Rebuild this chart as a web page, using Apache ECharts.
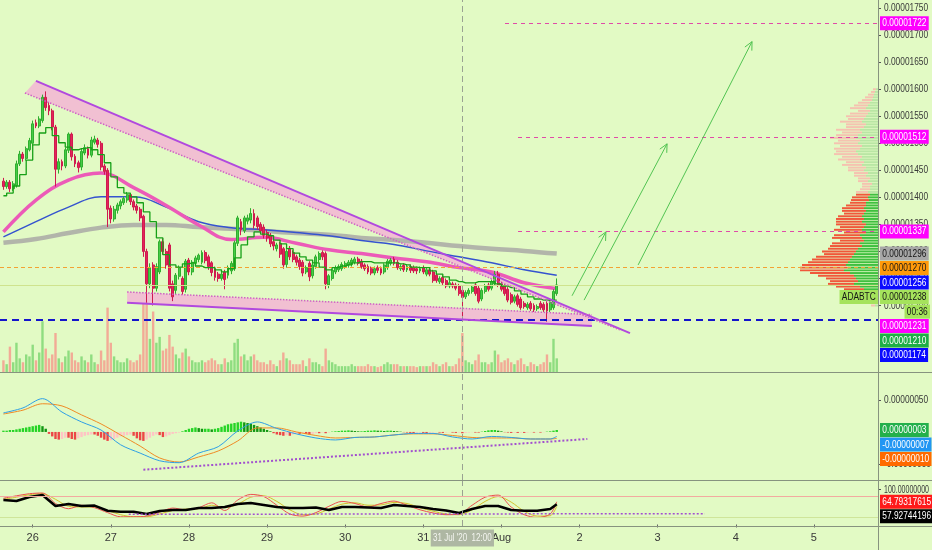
<!DOCTYPE html>
<html>
<head>
<meta charset="utf-8">
<title>ADABTC</title>
<script src="https://cdn.jsdelivr.net/npm/echarts@6.0.0/dist/echarts.min.js"></script>
<style>
html,body{margin:0;padding:0;background:#e2fac4;overflow:hidden}
#chart{width:932px;height:550px}
</style>
</head>
<body>
<div id="chart"></div>
<script>
// ======================= DATA =======================
// Prices in satoshi (1e-8 BTC). Time in hours since 25 Jul 2020 00:00, 1h candles.
const symbol = 'ADABTC';
const countdown = '00:36';
const firstCandleHour = 15;

const opens = [
1430,1420,1428,1416,1422,1462,1480,1472,1488,1500,
1538,1532,1542,1585,1570,1560,1530,1452,1466,1458,
1487,1517,1476,1464,1456,1482,1490,1478,1502,1506,
1500,1458,1450,1380,1360,1376,1384,1390,1395,1405,
1392,1384,1378,1365,1300,1240,1275,1232,1262,1318,
1300,1312,1240,1228,1254,1250,1230,1284,1262,1278,
1285,1280,1298,1290,1279,1268,1258,1250,1262,1256,
1264,1268,1315,1355,1338,1356,1358,1370,1362,1350,
1345,1335,1330,1318,1305,1315,1305,1276,1306,1298,
1290,1284,1280,1262,1278,1255,1272,1285,1298,1296,
1238,1250,1262,1266,1268,1272,1275,1276,1280,1286,
1282,1275,1272,1268,1260,1270,1268,1262,1270,1278,
1286,1280,1268,1274,1266,1272,1270,1268,1264,1270,
1258,1266,1262,1256,1244,1252,1246,1236,1240,1238,
1236,1228,1216,1222,1226,1238,1232,1212,1226,1238,
1232,1240,1258,1240,1236,1230,1220,1208,1218,1212,
1204,1196,1204,1200,1194,1204,1202,1204,1192,1196,
1222];
const closes = [
1420,1428,1416,1425,1462,1480,1472,1490,1505,1536,
1532,1545,1585,1566,1560,1530,1452,1466,1458,1488,
1517,1475,1462,1455,1485,1492,1478,1506,1508,1498,
1456,1448,1378,1360,1378,1386,1392,1398,1405,1392,
1382,1376,1362,1300,1240,1270,1232,1272,1318,1300,
1275,1232,1216,1256,1270,1226,1282,1262,1280,1288,
1293,1298,1283,1272,1261,1252,1250,1258,1248,1270,
1278,1316,1362,1340,1362,1362,1370,1348,1346,1338,
1330,1325,1314,1310,1312,1295,1275,1300,1290,1285,
1280,1272,1260,1270,1253,1275,1290,1296,1290,1240,
1255,1265,1270,1272,1276,1278,1280,1284,1286,1278,
1272,1268,1262,1260,1268,1265,1260,1275,1282,1284,
1278,1270,1272,1266,1272,1265,1264,1264,1268,1262,
1266,1258,1246,1246,1250,1242,1236,1242,1236,1232,
1222,1215,1224,1228,1234,1222,1208,1228,1236,1230,
1244,1258,1238,1230,1222,1210,1206,1216,1202,1196,
1198,1202,1194,1192,1198,1196,1192,1190,1206,1226,
1238];
const highs = [
1436,1432,1432,1430,1468,1486,1484,1494,1510,1542,
1544,1550,1590,1596,1576,1564,1534,1472,1470,1492,
1520,1520,1480,1468,1490,1498,1494,1512,1514,1510,
1504,1462,1454,1385,1384,1390,1396,1402,1410,1408,
1396,1388,1382,1368,1305,1278,1280,1278,1322,1324,
1305,1316,1246,1260,1274,1254,1286,1288,1284,1292,
1296,1302,1302,1294,1282,1272,1262,1262,1266,1274,
1282,1320,1366,1360,1366,1368,1380,1378,1366,1354,
1350,1340,1334,1322,1316,1318,1308,1304,1310,1302,
1294,1288,1284,1274,1282,1280,1294,1300,1302,1300,
1258,1268,1274,1276,1280,1282,1284,1288,1290,1290,
1286,1278,1276,1272,1272,1274,1272,1278,1286,1288,
1290,1284,1276,1278,1276,1276,1274,1272,1272,1274,
1270,1270,1266,1260,1254,1256,1250,1246,1244,1242,
1240,1232,1228,1232,1238,1242,1236,1232,1240,1242,
1248,1264,1264,1244,1240,1234,1224,1220,1222,1216,
1208,1206,1208,1204,1202,1208,1206,1208,1210,1230,
1250];
const lows = [
1414,1416,1410,1412,1418,1458,1466,1468,1485,1496,
1528,1528,1538,1560,1552,1524,1420,1444,1450,1454,
1482,1468,1456,1446,1450,1478,1472,1474,1498,1492,
1450,1442,1345,1352,1355,1370,1378,1386,1390,1386,
1376,1370,1356,1290,1205,1232,1200,1226,1258,1294,
1268,1226,1208,1220,1248,1220,1224,1256,1256,1272,
1280,1276,1278,1266,1254,1246,1244,1246,1230,1250,
1258,1264,1310,1330,1334,1350,1352,1342,1340,1332,
1324,1318,1308,1302,1300,1288,1268,1270,1284,1280,
1274,1266,1254,1258,1245,1250,1268,1280,1284,1230,
1232,1246,1258,1262,1264,1268,1270,1272,1276,1274,
1268,1264,1258,1256,1256,1260,1256,1258,1266,1274,
1274,1266,1264,1262,1262,1260,1260,1258,1260,1258,
1254,1254,1242,1242,1240,1238,1232,1232,1232,1228,
1218,1172,1212,1218,1222,1218,1204,1208,1222,1226,
1228,1236,1234,1226,1218,1206,1202,1204,1198,1192,
1194,1192,1190,1188,1190,1192,1188,1170,1188,1192,
1218];
const volumes = [
12,8,26,10,30,14,10,18,16,28,
12,20,52,24,14,18,40,14,10,16,
22,20,12,10,16,12,10,18,10,8,
22,12,66,30,16,12,10,10,14,12,
10,12,18,70,72,34,62,30,36,22,
24,38,26,18,14,20,24,16,12,10,
10,12,10,12,14,12,8,8,14,10,
12,30,34,16,18,12,16,18,12,10,
10,8,12,8,6,12,20,14,12,8,
8,8,12,6,14,10,10,8,6,24,
12,10,8,6,6,6,6,8,6,6,
6,6,8,6,6,5,6,8,10,8,
8,8,6,6,6,6,6,5,6,6,
6,6,10,8,6,8,10,6,6,8,
14,40,12,10,8,12,18,10,10,8,
10,22,18,10,12,14,10,8,12,14,
8,6,10,8,6,8,10,18,10,34,
14];

// moving averages, sampled every 10 candles (last = final candle)
const maStep = 10;
const ma50 = [1336,1395,1432,1445,1418,1385,1349,1322,1326,1315,1303,1296,1288,1281,1270,1262,1242,1231];
const ma100 = [1327,1355,1382,1401,1401,1382,1355,1344,1340,1335,1329,1320,1313,1301,1290,1279,1266,1256];
const ma200 = [1316,1323,1334,1344,1349,1349,1345,1342,1338,1334,1331,1325,1321,1316,1310,1305,1301,1296];
// stepped baseline, sampled every 2 candles
const baseStep = 2;
const baseLine = [
1403,1408,1421,1442,1469,1497,1519,1529,1514,1501,
1493,1488,1490,1492,1488,1479,1464,1438,1418,1408,
1401,1390,1373,1355,1325,1294,1275,1271,1277,1279,
1273,1270,1270,1266,1262,1268,1288,1312,1327,1336,
1332,1329,1321,1314,1305,1297,1290,1284,1279,1271,
1266,1270,1273,1275,1279,1281,1281,1279,1279,1279,
1279,1277,1275,1271,1270,1270,1264,1258,1253,1247,
1244,1242,1242,1244,1244,1244,1240,1236,1233,1227,
1221,1216,1212,1210,1210,1210];

// horizontal levels
const targetLevels = [1722, 1512, 1337];
const targetStartHours = [169.1, 173.1, 173.1];
const resistanceLevel = 1270;
const supportLevel = 1174;
const crosshairHour = 156;
const crosshairLabel = "31 Jul '20  12:00";

// falling wedge (hour, price)
const upperWedgeSolid = [[25.0, 1615.5], [207.5, 1149]];
const upperWedgeDotted = [[21.6, 1593], [204.4, 1155]];
const lowerWedgeSolid = [[53.0, 1205], [195.8, 1162]];
const lowerWedgeDotted = [[53.0, 1225], [195.8, 1183]];
// projection arrows (hour, price)
const arrowFrom = [[189.7, 1218], [193.4, 1210], [210.0, 1275]];
const arrowTo = [[200.1, 1336], [218.9, 1499], [245.0, 1688]];

// visible range volume profile (rows of 5 sat, from 1600 down to 1200)
const profileTop = 1600, profileRow = 5;
const valueArea = [1205, 1405];
const profileUp = [2,3,4,5,6,8,10,12,8,10, 12,14,16,12,14,18,16,20,22,18, 20,16,18,22,20,16,18,14,16,12, 14,10,12,8,10,6,8,8,10,8, 10,9,12,12,14,12,14,16,14,16, 12,14,16,12,18,16,14,18,16,20, 22,24,26,28,30,32,30,34,28,24, 22,20,24,18,14,12,10,8,6,4, 3];
const profileDown = [3,4,6,8,10,12,14,16,12,18, 20,16,22,20,18,24,20,22,26,22, 24,22,26,20,24,20,22,18,20,18, 16,14,12,12,10,10,8,10,12,14, 16,18,16,20,22,24,20,24,28,26, 30,24,28,22,26,30,24,28,32,30, 34,30,36,38,40,44,48,44,40,36, 30,28,26,24,20,16,12,10,8,6, 4];

// MACD (1e-8 units), lines sampled every 6 candles
const macdStep = 6;
const macdLine = [29.7,37.5,52,31,15.6,3,-20,-33,-45,-48,-33,-23,1.6,15.6,5.5,-3,-9.4,-12.5,-8.6,-7.8,-4.7,-2.3,-2.3,-7.8,-11,-7,-8.6,-11,-11,-7];
const signalLine = [28,34,44,40.6,26.6,12.5,-4.7,-22,-40.6,-47,-39,-29.7,-14,6.3,6.3,0,-5.5,-9.4,-8.6,-7.8,-4.7,-3,-3,-5.5,-8.6,-9.4,-9.4,-11,-11,-10];
const macdHist = [
2,2,3,3,4,5,6,7,8,9,10,11,9,5,
-3,-7,-11,-12,-11,-9,-9,-11,-12,-10,-8,-6,-5,-4,-4,-6,-9,-12,-14,-13,-11,-9,-7,-6,-5,-4,-6,-10,-13,-14,-12,-9,-6,-4,-5,-8,-7,-5,-3,-2,-1,
1,3,5,6,7,6,5,5,5,4,5,6,8,10,12,13,14,15,16,15,14,13,11,9,7,5,3,1,
-2,-4,-5,-6,-5,-6,-4,-3,-3,-2,-3,-4,-3,-2,-2,-1,-2,-1,
0.5,1,1.5,2,2,2.5,2,1.5,1,1,1.5,2,2,2.5,2,2,1.5,2,2,1.5,1,0.5,
-0.5,-1,-1.5,-2,-1.5,-1,-1.5,-2,-1.5,-1,-0.5,-1,-1.5,-1,-0.5,-1,-1.5,
-1,-2,-1.5,-1,-0.5,-1,-1,0.5,1.5,2.5,3,3,2,1,-0.5,-1,-1.5,-1,-1.5,-1,-1.5,-1,-0.5,-1,-0.5,-1,-0.5,0.5,1,2,3];
const macdTrend = [[58.0, -59], [194.4, -11]];

// oscillator panel, sampled every 4 candles
const oscStep = 4;
const oscMain = [70,67,78.6,84.3,52.9,58.6,52.9,54,39.4,36.6,36.6,30,38.6,41.4,41.4,47.1,47.1,50,58.6,61.4,55.7,50,47,47,48.6,41.4,50,50,48.6,47,55.7,52.9,50,44.3,40,32.9,44.3,52.9,52.9,41.4,39.4,39.4,44.3,57.92744196];
const oscFast = [75,82,88,90,60,45,55,48,34,22,22,24,35,47,42,48,62,40,70,86,80,55,30,24,34,52,66,60,50,60,67,55,42,33,28,30,55,78,84,50,28,20,30,64.79317615];
const oscSlow = [72,78,85,88,72,52,50,50,40,28,22,22,30,40,44,45,55,48,58,78,82,66,42,28,30,44,58,62,55,56,63,60,48,38,30,28,42,66,80,64,38,24,25,52];
const oscBands = [80, 20];
const oscTrend = [[53.5, 29], [230.5, 31]];

// axis ticks
const dayTickHours = [24,48,72,96,120,144,168,192,216,240,264];
const dayLabels = ['26','27','28','29','30','31','Aug','2','3','4','5'];
const priceTicks = [1200,1250,1300,1350,1400,1450,1500,1550,1600,1650,1700,1750];
const macdTicks = [-50, 50];
const oscTicks = [100];

// ======================= LAYOUT / STYLE =======================
const visibleHours = [13.95, 283.7];
const priceRange = [1077, 1765];
const macdRange = [-75, 92];
const oscRange = [-4.3, 124.3];
const BG = '#e2fac4';
const FONT = '"Liberation Sans",Arial,sans-serif';
const SX = 0.76; // horizontal squeeze to mimic the narrow UI font
const AXIS_TXT = '#383838';
const LINE_SEP = '#87937f';

const lastIdx = closes.length - 1;
const hourOf = i => firstCandleHour + i;
function idxList(step) { const a = []; for (let i = 0; i <= lastIdx; i += step) a.push(i); if (a[a.length - 1] !== lastIdx) a.push(lastIdx); return a; }
const sampled = (arr, step) => idxList(step).map((i, k) => [hourOf(i), arr[k]]);
const fmt8 = v => (v / 1e8).toFixed(8);

const wedges = [
  { solid: upperWedgeSolid, dotted: upperWedgeDotted },
  { solid: lowerWedgeSolid, dotted: lowerWedgeDotted }
];
const profileData = profileUp.map((u, k) => [profileTop - k * profileRow, u, profileDown[k]]);

function histColor(i) {
  const v = macdHist[i], p = i > 0 ? macdHist[i - 1] : v;
  if (v >= 0) return v >= p ? '#25d425' : '#129612';
  return v <= p ? '#ec4646' : '#ffc4c4';
}

const gridBase = { outerBoundsMode: 'none', containLabel: false };
const hiddenX = (gi) => ({ type: 'value', gridIndex: gi, min: visibleHours[0], max: visibleHours[1], show: false });
function rightY(gi, range, ticks) {
  return {
    type: 'value', gridIndex: gi, position: 'right', min: range[0], max: range[1], scale: true,
    axisLine: { show: false }, splitLine: { show: false },
    axisTick: { show: true, length: 3, lineStyle: { color: '#555' }, customValues: ticks },
    axisLabel: { show: false }
  };
}

const option = {
  animation: false,
  backgroundColor: BG,
  grid: [
    Object.assign({ left: 0, top: 0, width: 878, height: 372 }, gridBase),
    Object.assign({ left: 0, top: 292, width: 878, height: 80 }, gridBase),
    Object.assign({ left: 790, top: 0, width: 88, height: 372 }, gridBase),
    Object.assign({ left: 0, top: 373, width: 878, height: 107 }, gridBase),
    Object.assign({ left: 0, top: 481, width: 878, height: 45 }, gridBase)
  ],
  xAxis: [
    hiddenX(0), hiddenX(1),
    { type: 'value', gridIndex: 2, min: 0, max: 88, inverse: true, show: false },
    hiddenX(3),
    {
      type: 'value', gridIndex: 4, min: visibleHours[0], max: visibleHours[1],
      axisLine: { show: false }, splitLine: { show: false },
      axisTick: { show: true, length: 3, lineStyle: { color: '#666' }, customValues: dayTickHours },
      axisLabel: { show: true, margin: 6, color: AXIS_TXT, fontSize: 11, fontFamily: FONT, customValues: dayTickHours,
        formatter: v => { const k = dayTickHours.indexOf(Math.round(v)); return k >= 0 ? dayLabels[k] : ''; } }
    }
  ],
  yAxis: [
    rightY(0, priceRange, priceTicks),
    { type: 'value', gridIndex: 1, min: 0, max: 82, show: false },
    { type: 'value', gridIndex: 2, min: priceRange[0], max: priceRange[1], show: false },
    rightY(3, macdRange, macdTicks),
    rightY(4, oscRange, oscTicks)
  ],
  series: [
    // volume
    { type: 'bar', xAxisIndex: 1, yAxisIndex: 1, barWidth: 2.4, silent: true, z: 1,
      data: volumes.map((v, i) => [hourOf(i), v]),
      itemStyle: { color: p => closes[p.dataIndex] >= opens[p.dataIndex] ? '#8fdd80' : '#f2ab96' } },
    // volume profile
    { type: 'custom', xAxisIndex: 2, yAxisIndex: 2, silent: true, z: 1, data: profileData,
      renderItem: (params, api) => {
        const price = api.value(0), up = api.value(1), dn = api.value(2);
        const inVA = price >= valueArea[0] && price <= valueArea[1];
        const p0 = api.coord([0, price]), pu = api.coord([up, price]), pd = api.coord([up + dn, price]);
        const h = Math.max(1, api.size([0, profileRow])[1] * 0.72);
        return { type: 'group', children: [
          { type: 'rect', shape: { x: pu[0], y: p0[1] - h / 2, width: p0[0] - pu[0], height: h }, style: { fill: inVA ? '#3fbf3f' : '#b9e6a4' } },
          { type: 'rect', shape: { x: pd[0], y: p0[1] - h / 2, width: pu[0] - pd[0], height: h }, style: { fill: inVA ? '#f0573a' : '#f5c2b0' } }
        ] };
      } },
    // wedge bands
    { type: 'custom', xAxisIndex: 0, yAxisIndex: 0, silent: true, z: 2,
      data: wedges.map((w, k) => [w.solid[0][0], w.solid[0][1], k]),
      renderItem: (params, api) => {
        const w = wedges[params.dataIndex];
        const pts = [w.solid[0], w.solid[1], w.dotted[1], w.dotted[0]].map(p => api.coord(p));
        return { type: 'polygon', shape: { points: pts }, style: { fill: 'rgba(245,178,214,0.8)' } };
      } },
    // MA 200 gray
    { type: 'line', xAxisIndex: 0, yAxisIndex: 0, smooth: 0.4, symbol: 'none', silent: true, z: 3,
      data: sampled(ma200, maStep), lineStyle: { color: '#b2b5aa', width: 4.5 } },
    // MA 100 blue
    { type: 'line', xAxisIndex: 0, yAxisIndex: 0, smooth: 0.4, symbol: 'none', silent: true, z: 3,
      data: sampled(ma100, maStep), lineStyle: { color: '#3553cf', width: 1.5 } },
    // MA 50 pink
    { type: 'line', xAxisIndex: 0, yAxisIndex: 0, smooth: 0.4, symbol: 'none', silent: true, z: 3,
      data: sampled(ma50, maStep), lineStyle: { color: '#ec5ab8', width: 3.5 } },
    // candles
    { type: 'candlestick', xAxisIndex: 0, yAxisIndex: 0, barWidth: 2.4, silent: true, z: 4,
      data: opens.map((o, i) => [hourOf(i), o, closes[i], lows[i], highs[i]]),
      encode: { x: 0, y: [1, 2, 3, 4] },
      itemStyle: { color: '#46cc46', color0: '#e3245a', borderColor: '#2fae2f', borderColor0: '#cf1a4e', borderWidth: 1 },
      markLine: { silent: true, symbol: 'none', label: { show: false }, animation: false,
        data: [
          { yAxis: resistanceLevel, lineStyle: { color: '#f3a233', type: [4, 3], width: 1 } },
          { yAxis: closes[lastIdx], lineStyle: { color: '#cfe38e', type: 'solid', width: 1 } },
          { yAxis: supportLevel, lineStyle: { color: '#1414cc', type: [7, 5], width: 2 } },
          { xAxis: crosshairHour, lineStyle: { color: '#9aa292', type: [6, 4], width: 1 } },
          ...targetLevels.map((lv, k) => [
            { coord: [targetStartHours[k], lv], lineStyle: { color: '#e04aa8', type: [4, 4], width: 1 } },
            { coord: [visibleHours[1], lv] }
          ])
        ] } },
    // stepped baseline green
    { type: 'line', xAxisIndex: 0, yAxisIndex: 0, step: 'middle', symbol: 'none', silent: true, z: 5,
      data: sampled(baseLine, baseStep), lineStyle: { color: '#17a017', width: 1.3 } },
    // wedge lines
    ...wedges.map(w => ({ type: 'line', xAxisIndex: 0, yAxisIndex: 0, symbol: 'none', silent: true, z: 6,
      data: w.solid, lineStyle: { color: '#b149de', width: 2 } })),
    ...wedges.map(w => ({ type: 'line', xAxisIndex: 0, yAxisIndex: 0, symbol: 'none', silent: true, z: 6,
      data: w.dotted, lineStyle: { color: '#cf62c4', width: 1.5, type: 'dotted' } })),
    // projection arrows
    { type: 'custom', xAxisIndex: 0, yAxisIndex: 0, silent: true, z: 6,
      data: arrowFrom.map((p, k) => [p[0], p[1], k]),
      renderItem: (params, api) => {
        const k = params.dataIndex;
        const a = api.coord(arrowFrom[k]), b = api.coord(arrowTo[k]);
        const ang = Math.atan2(b[1] - a[1], b[0] - a[0]);
        const L = 9, s = 0.45;
        const h1 = [b[0] - L * Math.cos(ang - s), b[1] - L * Math.sin(ang - s)];
        const h2 = [b[0] - L * Math.cos(ang + s), b[1] - L * Math.sin(ang + s)];
        const st = { stroke: '#52c452', lineWidth: 1, fill: null };
        return { type: 'group', children: [
          { type: 'line', shape: { x1: a[0], y1: a[1], x2: b[0], y2: b[1] }, style: st },
          { type: 'polyline', shape: { points: [h1, b, h2] }, style: st }
        ] };
      } },
    // MACD histogram
    { type: 'bar', xAxisIndex: 3, yAxisIndex: 3, barWidth: 2.4, silent: true, z: 2,
      data: macdHist.map((v, i) => [hourOf(i), v]),
      itemStyle: { color: p => histColor(p.dataIndex) } },
    { type: 'line', xAxisIndex: 3, yAxisIndex: 3, smooth: 0.3, symbol: 'none', silent: true, z: 3,
      data: sampled(signalLine, macdStep), lineStyle: { color: '#f08a24', width: 1 } },
    { type: 'line', xAxisIndex: 3, yAxisIndex: 3, smooth: 0.3, symbol: 'none', silent: true, z: 3,
      data: sampled(macdLine, macdStep), lineStyle: { color: '#2e9fe6', width: 1 },
      markLine: { silent: true, symbol: 'none', label: { show: false }, data: [{ xAxis: crosshairHour, lineStyle: { color: '#9aa292', type: [6, 4], width: 1 } }] } },
    { type: 'line', xAxisIndex: 3, yAxisIndex: 3, symbol: 'none', silent: true, z: 3,
      data: macdTrend, lineStyle: { color: '#a24fcf', width: 2, type: [2, 2] } },
    // oscillator
    { type: 'line', xAxisIndex: 4, yAxisIndex: 4, smooth: 0.3, symbol: 'none', silent: true, z: 2,
      data: sampled(oscSlow, oscStep), lineStyle: { color: '#d3c12c', width: 1 },
      markLine: { silent: true, symbol: 'none', label: { show: false }, data: [
        { yAxis: oscBands[0], lineStyle: { color: '#f2aaa0', type: 'solid', width: 1 } },
        { yAxis: oscBands[1], lineStyle: { color: '#cfe59a', type: 'solid', width: 1 } },
        { xAxis: crosshairHour, lineStyle: { color: '#9aa292', type: [6, 4], width: 1 } }
      ] } },
    { type: 'line', xAxisIndex: 4, yAxisIndex: 4, smooth: 0.3, symbol: 'none', silent: true, z: 2,
      data: sampled(oscFast, oscStep), lineStyle: { color: '#ec5050', width: 1 } },
    { type: 'line', xAxisIndex: 4, yAxisIndex: 4, symbol: 'none', silent: true, z: 3,
      data: sampled(oscMain, oscStep), lineStyle: { color: '#000000', width: 2.6 } },
    { type: 'line', xAxisIndex: 4, yAxisIndex: 4, symbol: 'none', silent: true, z: 3,
      data: oscTrend, lineStyle: { color: '#a24fcf', width: 1.5, type: [2, 2] } }
  ]
};

const chart = echarts.init(document.getElementById('chart'), null, { renderer: 'canvas', width: 932, height: 550 });
chart.setOption(option);

// ---------- right price scale texts (squeezed narrow font) ----------
const graphics = [];
function txt(text, x, y, fill, opts) {
  opts = opts || {};
  const align = opts.align || 'left';
  const style = { text, fill, font: (opts.size || 11) + 'px ' + FONT, align, textAlign: align, verticalAlign: 'middle', textVerticalAlign: 'middle' };
  if (opts.bg) { style.backgroundColor = opts.bg; style.padding = opts.pad || [2, 3, 1, 3]; }
  return { type: 'text', x, y, scaleX: opts.sx || SX, z: opts.z || 90, silent: true, style };
}
function axisTexts(axisIdx, ticks, fmt, sx) {
  ticks.forEach(v => graphics.push(txt(fmt(v), 884, chart.convertToPixel({ yAxisIndex: axisIdx }, v), AXIS_TXT, { sx })));
}
axisTexts(0, priceTicks, fmt8);
axisTexts(3, macdTicks, fmt8);
axisTexts(4, oscTicks, v => v.toFixed(8), 0.64);

// ---------- value badges (stacked downward when they collide) ----------
const ROW = 14.5;
function stackBadges(items, axisIdx) {
  items.sort((a, b) => b.v - a.v);
  let prevBottom = -Infinity;
  items.forEach(it => {
    let y = chart.convertToPixel({ yAxisIndex: axisIdx }, it.v);
    if (y < prevBottom + ROW) y = prevBottom + ROW;
    it.y = y;
    prevBottom = y + ((it.rows || 1) - 1) * ROW;
  });
  return items;
}
const MAG = '#ff00ff';
const lightGreen = '#a5e35c';
const mainBadges = stackBadges([
  ...targetLevels.map(v => ({ v, bg: MAG, fg: '#fff' })),
  { v: ma200[ma200.length - 1], bg: '#a7a7a7', fg: '#151515' },
  { v: resistanceLevel, bg: '#ff9a0a', fg: '#151515' },
  { v: ma100[ma100.length - 1], bg: '#0a0aff', fg: '#fff' },
  { v: closes[lastIdx], bg: lightGreen, fg: '#151515', rows: 2, last: true },
  { v: ma50[ma50.length - 1], bg: MAG, fg: '#fff' },
  { v: baseLine[baseLine.length - 1], bg: '#1fae46', fg: '#fff' },
  { v: supportLevel, bg: '#0a0aff', fg: '#fff' }
], 0);
const macdBadges = stackBadges([
  { v: macdHist[lastIdx], bg: '#23b04b', fg: '#fff' },
  { v: macdLine[macdLine.length - 1], bg: '#2196f3', fg: '#fff' },
  { v: signalLine[signalLine.length - 1], bg: '#ff6a00', fg: '#fff' }
], 3);
const oscBadges = stackBadges([
  { v: oscFast[oscFast.length - 1], bg: '#ff1a1a', fg: '#fff' },
  { v: oscMain[oscMain.length - 1], bg: '#000000', fg: '#fff' }
], 4);

mainBadges.forEach(b => {
  graphics.push(txt(fmt8(b.v), 880, b.y, b.fg, { bg: b.bg, z: 100 }));
  if (b.last) {
    graphics.push(txt(symbol, 878, b.y, b.fg, { bg: b.bg, z: 100, align: 'right' }));
    graphics.push(txt(countdown, 930, b.y + ROW, b.fg, { bg: b.bg, z: 100, align: 'right' }));
  }
});
macdBadges.forEach(b => graphics.push(txt(fmt8(b.v), 880, b.y, b.fg, { bg: b.bg, z: 100 })));
oscBadges.forEach(b => graphics.push(txt(b.v.toFixed(8), 880, b.y, b.fg, { bg: b.bg, z: 100 })));

// crosshair time label
const chX = chart.convertToPixel({ xAxisIndex: 4 }, crosshairHour);
graphics.push(txt(crosshairLabel, chX, 538, '#f4f6f0', { bg: '#aeb7a3', pad: [4, 3, 3, 3], size: 10, sx: 0.8, z: 100, align: 'center' }));

// pane separators
[372.5, 480.5, 526.5].forEach(y => graphics.push({ type: 'line', z: 50, silent: true, shape: { x1: 0, y1: y, x2: 932, y2: y }, style: { stroke: LINE_SEP, lineWidth: 1 } }));
graphics.push({ type: 'line', z: 50, silent: true, shape: { x1: 878.5, y1: 0, x2: 878.5, y2: 550 }, style: { stroke: LINE_SEP, lineWidth: 1 } });

chart.setOption({ graphic: graphics });
</script>
</body>
</html>
